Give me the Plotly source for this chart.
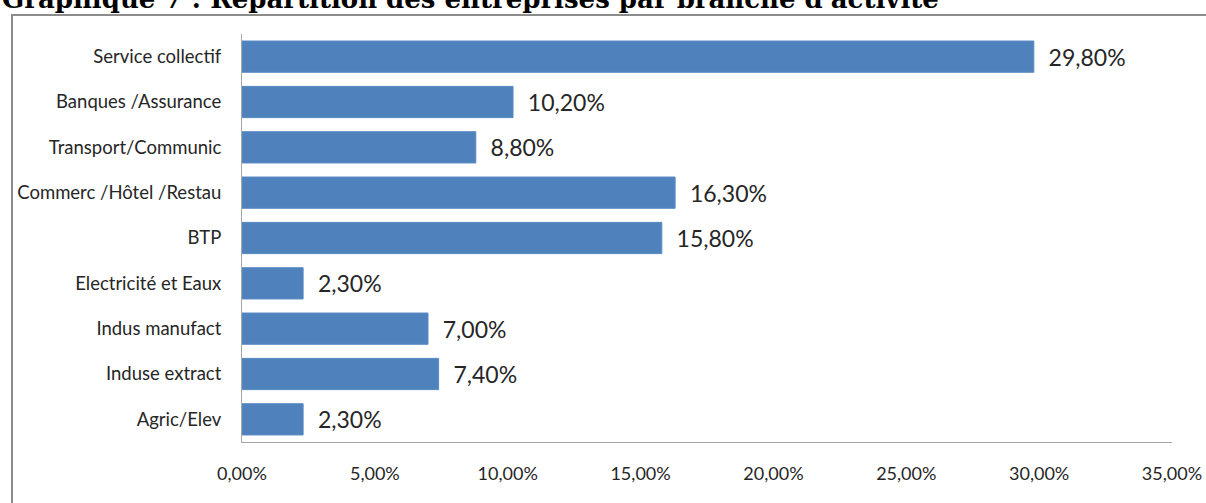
import plotly.graph_objects as go

# Répartition des entreprises par branche d'activité (part en fraction)
categories = [
    "Service collectif",
    "Banques /Assurance",
    "Transport/Communic",
    "Commerc /Hôtel /Restau",
    "BTP",
    "Electricité et Eaux",
    "Indus manufact",
    "Induse extract",
    "Agric/Elev",
]
shares = [0.298, 0.102, 0.088, 0.163, 0.158, 0.023, 0.070, 0.074, 0.023]
x_ticks = [0.0, 0.05, 0.10, 0.15, 0.20, 0.25, 0.30, 0.35]

title_text = "Graphique 7 : Répartition des entreprises par branche d'activité"

BAR_COLOR = "#4F81BD"
TEXT_COLOR = "#262626"
AXIS_COLOR = "#A6A6A6"
FONT = "Lato, Carlito, 'Open Sans', sans-serif"

W, H = 1206, 503
M_L, M_R, M_T, M_B = 242, 34, 34, 61
PLOT_W = W - M_L - M_R
PLOT_H = H - M_T - M_B

fig = go.Figure(
    go.Bar(
        x=shares,
        y=categories,
        orientation="h",
        marker=dict(color=BAR_COLOR, line=dict(color="#5B8CC6", width=1)),
        width=0.69,
        texttemplate="\u00a0\u00a0%{x:.2%}",
        textposition="outside",
        textfont=dict(family=FONT, size=23, color=TEXT_COLOR),
        cliponaxis=False,
        hoverinfo="skip",
    )
)

fig.update_layout(
    width=W,
    height=H,
    margin=dict(l=M_L, r=M_R, t=M_T, b=M_B, autoexpand=False),
    paper_bgcolor="white",
    plot_bgcolor="white",
    separators=", ",
    showlegend=False,
    font=dict(family=FONT, color=TEXT_COLOR),
)

fig.update_xaxes(
    range=[0, 0.35],
    tickvals=x_ticks,
    tickformat=".2%",
    automargin=False,
    showgrid=False,
    zeroline=False,
    showline=True,
    linecolor=AXIS_COLOR,
    linewidth=1,
    ticks="",
    ticklabelstandoff=15,
    tickfont=dict(family=FONT, size=18, color=TEXT_COLOR),
)

fig.update_yaxes(
    categoryorder="array",
    categoryarray=categories[::-1],
    range=[-0.5, len(categories) - 0.5],
    automargin=False,
    showgrid=False,
    zeroline=False,
    showline=True,
    linecolor=AXIS_COLOR,
    linewidth=1,
    ticks="",
    ticklabelstandoff=16,
    tickfont=dict(family=FONT, size=18.5, color=TEXT_COLOR),
)

# Outer frame of the chart block
fig.add_shape(
    type="rect",
    xref="paper", yref="paper",
    x0=(12 - M_L) / PLOT_W, x1=1.2,
    y0=-0.3, y1=(H - M_B - 15) / PLOT_H,
    line=dict(color="#8C8C8C", width=2),
    fillcolor="rgba(0,0,0,0)",
    layer="below",
)

# Heading above the frame
fig.add_annotation(
    text="<b>" + title_text + "</b>",
    xref="paper", yref="paper",
    x=(0 - M_L) / PLOT_W, y=(H - M_B - 16) / PLOT_H,
    xanchor="left", yanchor="bottom",
    showarrow=False,
    font=dict(family="'DejaVu Serif', 'Liberation Serif', serif", size=26, color="#000000"),
)

fig.write_html("out.html")
